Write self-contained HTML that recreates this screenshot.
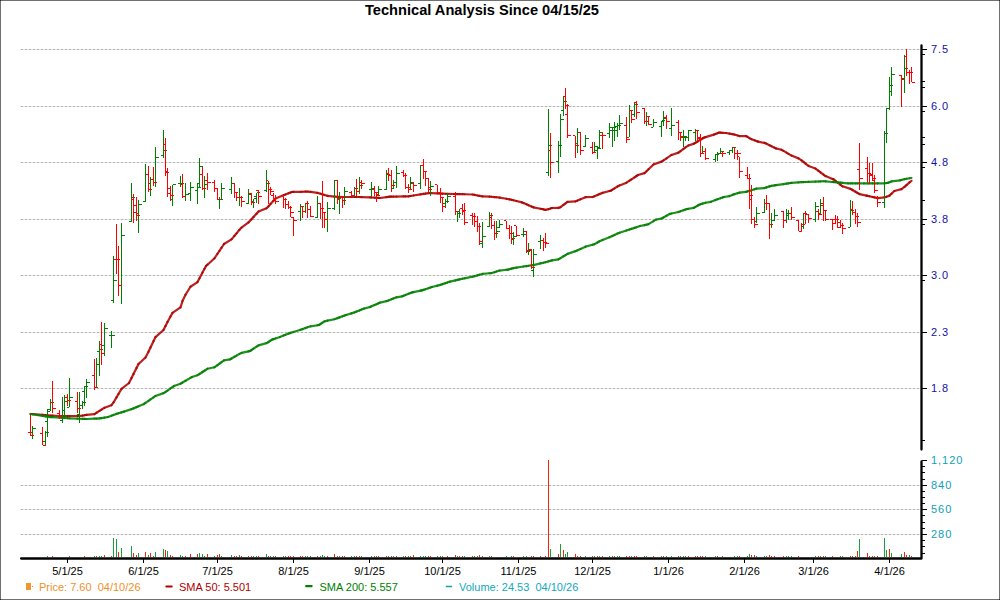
<!DOCTYPE html>
<html><head><meta charset="utf-8"><title>Technical Analysis</title>
<style>
html,body{margin:0;padding:0;background:#fff;}
body{width:1000px;height:600px;overflow:hidden;position:relative;font-family:"Liberation Sans",sans-serif;}
svg{position:absolute;left:0;top:0;}
svg text{font-family:"Liberation Sans",sans-serif;}
</style></head><body>
<svg width="1000" height="600" viewBox="0 0 1000 600">
<rect x="0" y="0" width="1000" height="600" fill="#fff"/>
<path d="M20 49.5H920M20 106.5H920M20 162.5H920M20 219.5H920M20 275.5H920M20 332.5H920M20 388.5H920M20 485.5H920M20 509.5H920M20 534.5H920" stroke="#e6e6e6" stroke-width="1" fill="none" shape-rendering="crispEdges"/>
<path d="M21 49.5H920M21 106.5H920M21 162.5H920M21 219.5H920M21 275.5H920M21 332.5H920M21 388.5H920M21 485.5H920M21 509.5H920M21 534.5H920" stroke="#b4b4b4" stroke-width="1" stroke-dasharray="2,2" fill="none" shape-rendering="crispEdges"/>
<g stroke="#b00000" stroke-width="2.2" stroke-opacity="0.87" stroke-linecap="round"><line x1="30.5" y1="414.00" x2="32.5" y2="414.13"/><line x1="32.5" y1="414.13" x2="42.5" y2="414.97"/><line x1="42.5" y1="414.97" x2="45.5" y2="415.22"/><line x1="45.5" y1="415.22" x2="47.5" y2="415.39"/><line x1="47.5" y1="415.39" x2="50.5" y2="415.62"/><line x1="50.5" y1="415.62" x2="52.5" y2="415.70"/><line x1="52.5" y1="415.70" x2="59.5" y2="415.98"/><line x1="59.5" y1="415.98" x2="62.5" y2="416.00"/><line x1="62.5" y1="416.00" x2="64.5" y2="416.00"/><line x1="64.5" y1="416.00" x2="67.5" y2="416.00"/><line x1="67.5" y1="416.00" x2="69.5" y2="416.00"/><line x1="69.5" y1="416.00" x2="77.5" y2="416.00"/><line x1="77.5" y1="416.00" x2="79.5" y2="416.00"/><line x1="79.5" y1="416.00" x2="82.5" y2="415.58"/><line x1="82.5" y1="415.58" x2="84.5" y2="415.25"/><line x1="84.5" y1="415.25" x2="86.5" y2="414.96"/><line x1="86.5" y1="414.96" x2="94.5" y2="414.08"/><line x1="94.5" y1="414.08" x2="96.5" y2="412.80"/><line x1="96.5" y1="412.80" x2="99.5" y2="410.88"/><line x1="99.5" y1="410.88" x2="101.5" y2="409.60"/><line x1="101.5" y1="409.60" x2="104.5" y2="407.81"/><line x1="104.5" y1="407.81" x2="111.5" y2="405.19"/><line x1="111.5" y1="405.19" x2="113.5" y2="402.45"/><line x1="113.5" y1="402.45" x2="116.5" y2="397.35"/><line x1="116.5" y1="397.35" x2="118.5" y2="393.95"/><line x1="118.5" y1="393.95" x2="121.5" y2="388.85"/><line x1="121.5" y1="388.85" x2="129.0" y2="383.00"/><line x1="129.0" y1="383.00" x2="131.5" y2="378.00"/><line x1="131.5" y1="378.00" x2="133.5" y2="374.00"/><line x1="133.5" y1="374.00" x2="136.5" y2="368.00"/><line x1="136.5" y1="368.00" x2="138.5" y2="364.00"/><line x1="138.5" y1="364.00" x2="145.5" y2="357.43"/><line x1="145.5" y1="357.43" x2="148.5" y2="351.75"/><line x1="148.5" y1="351.75" x2="150.5" y2="347.55"/><line x1="150.5" y1="347.55" x2="153.5" y2="341.25"/><line x1="153.5" y1="341.25" x2="155.5" y2="337.05"/><line x1="155.5" y1="337.05" x2="163.5" y2="330.00"/><line x1="163.5" y1="330.00" x2="165.5" y2="326.00"/><line x1="165.5" y1="326.00" x2="167.5" y2="322.00"/><line x1="167.5" y1="322.00" x2="170.5" y2="316.50"/><line x1="170.5" y1="316.50" x2="172.5" y2="312.90"/><line x1="172.5" y1="312.90" x2="180.5" y2="307.31"/><line x1="180.5" y1="307.31" x2="182.5" y2="301.00"/><line x1="182.5" y1="301.00" x2="185.5" y2="294.71"/><line x1="185.5" y1="294.71" x2="190.5" y2="286.71"/><line x1="190.5" y1="286.71" x2="197.5" y2="282.06"/><line x1="197.5" y1="282.06" x2="199.5" y2="278.28"/><line x1="199.5" y1="278.28" x2="202.5" y2="272.61"/><line x1="202.5" y1="272.61" x2="204.5" y2="268.83"/><line x1="204.5" y1="268.83" x2="206.0" y2="266.00"/><line x1="206.0" y1="266.00" x2="207.5" y2="264.69"/><line x1="207.5" y1="264.69" x2="214.5" y2="258.25"/><line x1="214.5" y1="258.25" x2="217.5" y2="253.75"/><line x1="217.5" y1="253.75" x2="219.5" y2="250.75"/><line x1="219.5" y1="250.75" x2="221.5" y2="247.75"/><line x1="221.5" y1="247.75" x2="224.0" y2="244.00"/><line x1="224.0" y1="244.00" x2="231.5" y2="239.40"/><line x1="231.5" y1="239.40" x2="234.5" y2="235.80"/><line x1="234.5" y1="235.80" x2="236.5" y2="233.40"/><line x1="236.5" y1="233.40" x2="239.5" y2="229.80"/><line x1="239.5" y1="229.80" x2="241.5" y2="227.62"/><line x1="241.5" y1="227.62" x2="248.5" y2="222.38"/><line x1="248.5" y1="222.38" x2="251.5" y2="219.25"/><line x1="251.5" y1="219.25" x2="253.5" y2="217.05"/><line x1="253.5" y1="217.05" x2="256.5" y2="213.75"/><line x1="256.5" y1="213.75" x2="258.5" y2="211.55"/><line x1="258.5" y1="211.55" x2="266.5" y2="208.19"/><line x1="266.5" y1="208.19" x2="268.5" y2="206.33"/><line x1="268.5" y1="206.33" x2="270.5" y2="204.11"/><line x1="270.5" y1="204.11" x2="273.5" y2="200.78"/><line x1="273.5" y1="200.78" x2="275.5" y2="198.56"/><line x1="275.5" y1="198.56" x2="283.5" y2="195.19"/><line x1="283.5" y1="195.19" x2="285.5" y2="194.44"/><line x1="285.5" y1="194.44" x2="288.5" y2="193.31"/><line x1="288.5" y1="193.31" x2="290.5" y2="192.56"/><line x1="290.5" y1="192.56" x2="292.0" y2="192.00"/><line x1="292.0" y1="192.00" x2="293.5" y2="191.96"/><line x1="293.5" y1="191.96" x2="300.5" y2="191.79"/><line x1="300.5" y1="191.79" x2="302.5" y2="191.74"/><line x1="302.5" y1="191.74" x2="305.5" y2="191.66"/><line x1="305.5" y1="191.66" x2="307.5" y2="191.61"/><line x1="307.5" y1="191.61" x2="310.5" y2="191.95"/><line x1="310.5" y1="191.95" x2="317.5" y2="192.93"/><line x1="317.5" y1="192.93" x2="320.5" y2="193.75"/><line x1="320.5" y1="193.75" x2="322.5" y2="194.35"/><line x1="322.5" y1="194.35" x2="324.5" y2="194.95"/><line x1="324.5" y1="194.95" x2="327.5" y2="195.85"/><line x1="327.5" y1="195.85" x2="334.5" y2="196.54"/><line x1="334.5" y1="196.54" x2="337.5" y2="196.79"/><line x1="337.5" y1="196.79" x2="339.5" y2="196.96"/><line x1="339.5" y1="196.96" x2="342.5" y2="197.00"/><line x1="342.5" y1="197.00" x2="344.5" y2="197.00"/><line x1="344.5" y1="197.00" x2="351.5" y2="197.00"/><line x1="351.5" y1="197.00" x2="354.5" y2="197.00"/><line x1="354.5" y1="197.00" x2="356.5" y2="197.00"/><line x1="356.5" y1="197.00" x2="359.5" y2="197.00"/><line x1="359.5" y1="197.00" x2="361.5" y2="197.06"/><line x1="361.5" y1="197.06" x2="370.0" y2="197.40"/><line x1="370.0" y1="197.40" x2="371.5" y2="197.49"/><line x1="371.5" y1="197.49" x2="374.5" y2="197.67"/><line x1="374.5" y1="197.67" x2="376.5" y2="197.79"/><line x1="376.5" y1="197.79" x2="378.5" y2="197.91"/><line x1="378.5" y1="197.91" x2="380.0" y2="198.00"/><line x1="380.0" y1="198.00" x2="386.5" y2="197.09"/><line x1="386.5" y1="197.09" x2="388.5" y2="196.81"/><line x1="388.5" y1="196.81" x2="390.0" y2="196.60"/><line x1="390.0" y1="196.60" x2="391.5" y2="196.58"/><line x1="391.5" y1="196.58" x2="393.5" y2="196.56"/><line x1="393.5" y1="196.56" x2="396.5" y2="196.53"/><line x1="396.5" y1="196.53" x2="403.5" y2="196.45"/><line x1="403.5" y1="196.45" x2="405.5" y2="196.43"/><line x1="405.5" y1="196.43" x2="408.5" y2="196.32"/><line x1="408.5" y1="196.32" x2="410.5" y2="195.98"/><line x1="410.5" y1="195.98" x2="413.5" y2="195.48"/><line x1="413.5" y1="195.48" x2="420.5" y2="194.33"/><line x1="420.5" y1="194.33" x2="423.5" y2="193.91"/><line x1="423.5" y1="193.91" x2="425.5" y2="193.63"/><line x1="425.5" y1="193.63" x2="428.5" y2="193.21"/><line x1="428.5" y1="193.21" x2="430.5" y2="193.03"/><line x1="430.5" y1="193.03" x2="437.5" y2="193.45"/><line x1="437.5" y1="193.45" x2="440.5" y2="193.61"/><line x1="440.5" y1="193.61" x2="442.5" y2="193.67"/><line x1="442.5" y1="193.67" x2="445.5" y2="193.76"/><line x1="445.5" y1="193.76" x2="447.5" y2="193.81"/><line x1="447.5" y1="193.81" x2="454.0" y2="194.00"/><line x1="454.0" y1="194.00" x2="455.5" y2="194.03"/><line x1="455.5" y1="194.03" x2="457.5" y2="194.08"/><line x1="457.5" y1="194.08" x2="459.5" y2="194.12"/><line x1="459.5" y1="194.12" x2="462.5" y2="194.19"/><line x1="462.5" y1="194.19" x2="464.5" y2="194.23"/><line x1="464.5" y1="194.23" x2="472.5" y2="194.50"/><line x1="472.5" y1="194.50" x2="474.5" y2="194.90"/><line x1="474.5" y1="194.90" x2="477.5" y2="195.50"/><line x1="477.5" y1="195.50" x2="479.5" y2="195.90"/><line x1="479.5" y1="195.90" x2="482.5" y2="196.41"/><line x1="482.5" y1="196.41" x2="489.5" y2="196.59"/><line x1="489.5" y1="196.59" x2="491.5" y2="196.75"/><line x1="491.5" y1="196.75" x2="494.5" y2="197.05"/><line x1="494.5" y1="197.05" x2="496.5" y2="197.25"/><line x1="496.5" y1="197.25" x2="499.5" y2="197.55"/><line x1="499.5" y1="197.55" x2="506.5" y2="198.77"/><line x1="506.5" y1="198.77" x2="509.5" y2="199.31"/><line x1="509.5" y1="199.31" x2="511.5" y2="199.78"/><line x1="511.5" y1="199.78" x2="513.5" y2="200.28"/><line x1="513.5" y1="200.28" x2="516.5" y2="201.03"/><line x1="516.5" y1="201.03" x2="522.0" y2="202.40"/><line x1="522.0" y1="202.40" x2="523.5" y2="203.05"/><line x1="523.5" y1="203.05" x2="526.5" y2="204.35"/><line x1="526.5" y1="204.35" x2="528.5" y2="205.22"/><line x1="528.5" y1="205.22" x2="531.5" y2="206.52"/><line x1="531.5" y1="206.52" x2="533.5" y2="207.38"/><line x1="533.5" y1="207.38" x2="540.5" y2="208.74"/><line x1="540.5" y1="208.74" x2="542.0" y2="209.00"/><line x1="542.0" y1="209.00" x2="543.5" y2="209.38"/><line x1="543.5" y1="209.38" x2="545.5" y2="209.88"/><line x1="545.5" y1="209.88" x2="548.5" y2="209.17"/><line x1="548.5" y1="209.17" x2="550.5" y2="208.50"/><line x1="550.5" y1="208.50" x2="552.0" y2="208.00"/><line x1="552.0" y1="208.00" x2="558.5" y2="207.90"/><line x1="558.5" y1="207.90" x2="560.5" y2="207.21"/><line x1="560.5" y1="207.21" x2="563.5" y2="204.89"/><line x1="563.5" y1="204.89" x2="565.5" y2="203.34"/><line x1="565.5" y1="203.34" x2="567.5" y2="201.79"/><line x1="567.5" y1="201.79" x2="575.5" y2="201.39"/><line x1="575.5" y1="201.39" x2="577.5" y2="200.55"/><line x1="577.5" y1="200.55" x2="580.5" y2="199.30"/><line x1="580.5" y1="199.30" x2="585.5" y2="197.21"/><line x1="585.5" y1="197.21" x2="592.5" y2="197.00"/><line x1="592.5" y1="197.00" x2="594.5" y2="196.33"/><line x1="594.5" y1="196.33" x2="597.5" y2="195.00"/><line x1="597.5" y1="195.00" x2="599.5" y2="194.11"/><line x1="599.5" y1="194.11" x2="602.5" y2="192.87"/><line x1="602.5" y1="192.87" x2="609.5" y2="191.00"/><line x1="609.5" y1="191.00" x2="611.0" y2="190.60"/><line x1="611.0" y1="190.60" x2="612.5" y2="189.66"/><line x1="612.5" y1="189.66" x2="614.5" y2="188.41"/><line x1="614.5" y1="188.41" x2="617.5" y2="186.54"/><line x1="617.5" y1="186.54" x2="619.5" y2="185.41"/><line x1="619.5" y1="185.41" x2="626.5" y2="182.67"/><line x1="626.5" y1="182.67" x2="629.5" y2="180.67"/><line x1="629.5" y1="180.67" x2="631.5" y2="179.33"/><line x1="631.5" y1="179.33" x2="634.5" y2="177.33"/><line x1="634.5" y1="177.33" x2="636.5" y2="176.00"/><line x1="636.5" y1="176.00" x2="638.0" y2="175.00"/><line x1="638.0" y1="175.00" x2="644.5" y2="173.12"/><line x1="644.5" y1="173.12" x2="646.5" y2="171.20"/><line x1="646.5" y1="171.20" x2="648.5" y2="169.28"/><line x1="648.5" y1="169.28" x2="653.5" y2="164.48"/><line x1="653.5" y1="164.48" x2="661.5" y2="161.66"/><line x1="661.5" y1="161.66" x2="663.5" y2="160.32"/><line x1="663.5" y1="160.32" x2="666.5" y2="158.30"/><line x1="666.5" y1="158.30" x2="671.5" y2="154.94"/><line x1="671.5" y1="154.94" x2="678.5" y2="152.63"/><line x1="678.5" y1="152.63" x2="680.5" y2="151.15"/><line x1="680.5" y1="151.15" x2="683.5" y2="148.93"/><line x1="683.5" y1="148.93" x2="685.5" y2="147.45"/><line x1="685.5" y1="147.45" x2="688.5" y2="145.43"/><line x1="688.5" y1="145.43" x2="694.0" y2="143.60"/><line x1="694.0" y1="143.60" x2="695.5" y2="142.70"/><line x1="695.5" y1="142.70" x2="697.5" y2="141.50"/><line x1="697.5" y1="141.50" x2="700.5" y2="139.70"/><line x1="700.5" y1="139.70" x2="702.5" y2="138.50"/><line x1="702.5" y1="138.50" x2="704.0" y2="137.60"/><line x1="704.0" y1="137.60" x2="705.5" y2="137.15"/><line x1="705.5" y1="137.15" x2="714.0" y2="134.60"/><line x1="714.0" y1="134.60" x2="715.5" y2="134.00"/><line x1="715.5" y1="134.00" x2="717.5" y2="133.20"/><line x1="717.5" y1="133.20" x2="719.0" y2="132.60"/><line x1="719.0" y1="132.60" x2="720.5" y2="132.69"/><line x1="720.5" y1="132.69" x2="722.5" y2="132.80"/><line x1="722.5" y1="132.80" x2="726.0" y2="133.00"/><line x1="726.0" y1="133.00" x2="729.5" y2="133.61"/><line x1="729.5" y1="133.61" x2="732.5" y2="134.14"/><line x1="732.5" y1="134.14" x2="734.5" y2="134.55"/><line x1="734.5" y1="134.55" x2="737.5" y2="135.45"/><line x1="737.5" y1="135.45" x2="739.5" y2="136.05"/><line x1="739.5" y1="136.05" x2="746.3" y2="136.20"/><line x1="746.3" y1="136.20" x2="747.5" y2="136.92"/><line x1="747.5" y1="136.92" x2="749.5" y2="138.12"/><line x1="749.5" y1="138.12" x2="751.5" y2="139.16"/><line x1="751.5" y1="139.16" x2="754.5" y2="140.29"/><line x1="754.5" y1="140.29" x2="756.5" y2="141.04"/><line x1="756.5" y1="141.04" x2="758.0" y2="141.60"/><line x1="758.0" y1="141.60" x2="764.5" y2="142.86"/><line x1="764.5" y1="142.86" x2="766.5" y2="143.65"/><line x1="766.5" y1="143.65" x2="769.5" y2="145.15"/><line x1="769.5" y1="145.15" x2="771.5" y2="146.15"/><line x1="771.5" y1="146.15" x2="774.5" y2="147.65"/><line x1="774.5" y1="147.65" x2="776.0" y2="148.40"/><line x1="776.0" y1="148.40" x2="781.4" y2="149.70"/><line x1="781.4" y1="149.70" x2="783.5" y2="150.92"/><line x1="783.5" y1="150.92" x2="786.5" y2="152.67"/><line x1="786.5" y1="152.67" x2="788.5" y2="153.84"/><line x1="788.5" y1="153.84" x2="791.5" y2="155.59"/><line x1="791.5" y1="155.59" x2="798.5" y2="158.36"/><line x1="798.5" y1="158.36" x2="801.5" y2="160.38"/><line x1="801.5" y1="160.38" x2="803.5" y2="161.98"/><line x1="803.5" y1="161.98" x2="805.5" y2="163.58"/><line x1="805.5" y1="163.58" x2="808.5" y2="165.94"/><line x1="808.5" y1="165.94" x2="815.5" y2="168.56"/><line x1="815.5" y1="168.56" x2="818.5" y2="170.77"/><line x1="818.5" y1="170.77" x2="820.5" y2="172.27"/><line x1="820.5" y1="172.27" x2="823.5" y2="174.53"/><line x1="823.5" y1="174.53" x2="825.5" y2="176.03"/><line x1="825.5" y1="176.03" x2="832.5" y2="178.99"/><line x1="832.5" y1="178.99" x2="833.6" y2="179.40"/><line x1="833.6" y1="179.40" x2="835.5" y2="180.88"/><line x1="835.5" y1="180.88" x2="837.5" y2="182.45"/><line x1="837.5" y1="182.45" x2="840.5" y2="184.78"/><line x1="840.5" y1="184.78" x2="842.5" y2="186.27"/><line x1="842.5" y1="186.27" x2="850.5" y2="188.86"/><line x1="850.5" y1="188.86" x2="852.5" y2="190.00"/><line x1="852.5" y1="190.00" x2="855.5" y2="191.71"/><line x1="855.5" y1="191.71" x2="857.5" y2="192.94"/><line x1="857.5" y1="192.94" x2="859.5" y2="194.07"/><line x1="859.5" y1="194.07" x2="866.4" y2="195.60"/><line x1="866.4" y1="195.60" x2="867.5" y2="195.84"/><line x1="867.5" y1="195.84" x2="869.5" y2="196.29"/><line x1="869.5" y1="196.29" x2="872.5" y2="196.96"/><line x1="872.5" y1="196.96" x2="874.5" y2="197.42"/><line x1="874.5" y1="197.42" x2="877.5" y2="198.17"/><line x1="877.5" y1="198.17" x2="884.5" y2="197.42"/><line x1="884.5" y1="197.42" x2="886.5" y2="196.71"/><line x1="886.5" y1="196.71" x2="889.5" y2="195.64"/><line x1="889.5" y1="195.64" x2="891.5" y2="193.78"/><line x1="891.5" y1="193.78" x2="894.4" y2="191.00"/><line x1="894.4" y1="191.00" x2="901.5" y2="189.07"/><line x1="901.5" y1="189.07" x2="904.5" y2="186.83"/><line x1="904.5" y1="186.83" x2="906.5" y2="185.16"/><line x1="906.5" y1="185.16" x2="909.5" y2="182.38"/><line x1="909.5" y1="182.38" x2="911.5" y2="180.80"/></g>
<g stroke="#008000" stroke-width="2.2" stroke-opacity="0.87" stroke-linecap="round"><line x1="30.5" y1="414.00" x2="32.5" y2="414.24"/><line x1="32.5" y1="414.24" x2="42.5" y2="415.82"/><line x1="42.5" y1="415.82" x2="45.5" y2="416.29"/><line x1="45.5" y1="416.29" x2="47.5" y2="416.61"/><line x1="47.5" y1="416.61" x2="50.5" y2="417.04"/><line x1="50.5" y1="417.04" x2="52.5" y2="417.18"/><line x1="52.5" y1="417.18" x2="59.5" y2="417.66"/><line x1="59.5" y1="417.66" x2="62.5" y2="417.88"/><line x1="62.5" y1="417.88" x2="64.5" y2="418.01"/><line x1="64.5" y1="418.01" x2="67.5" y2="418.22"/><line x1="67.5" y1="418.22" x2="69.5" y2="418.36"/><line x1="69.5" y1="418.36" x2="77.5" y2="418.68"/><line x1="77.5" y1="418.68" x2="79.5" y2="418.76"/><line x1="79.5" y1="418.76" x2="82.5" y2="418.87"/><line x1="82.5" y1="418.87" x2="84.5" y2="418.94"/><line x1="84.5" y1="418.94" x2="86.5" y2="418.98"/><line x1="86.5" y1="418.98" x2="94.5" y2="418.64"/><line x1="94.5" y1="418.64" x2="96.5" y2="418.55"/><line x1="96.5" y1="418.55" x2="99.5" y2="418.42"/><line x1="99.5" y1="418.42" x2="101.5" y2="418.14"/><line x1="101.5" y1="418.14" x2="104.5" y2="417.61"/><line x1="104.5" y1="417.61" x2="108.0" y2="417.00"/><line x1="108.0" y1="417.00" x2="111.5" y2="415.69"/><line x1="111.5" y1="415.69" x2="113.5" y2="414.94"/><line x1="113.5" y1="414.94" x2="116.5" y2="413.85"/><line x1="116.5" y1="413.85" x2="118.5" y2="413.25"/><line x1="118.5" y1="413.25" x2="121.5" y2="412.35"/><line x1="121.5" y1="412.35" x2="124.0" y2="411.60"/><line x1="124.0" y1="411.60" x2="131.5" y2="409.16"/><line x1="131.5" y1="409.16" x2="133.5" y2="408.38"/><line x1="133.5" y1="408.38" x2="136.5" y2="407.12"/><line x1="136.5" y1="407.12" x2="138.5" y2="406.29"/><line x1="138.5" y1="406.29" x2="144.0" y2="404.00"/><line x1="144.0" y1="404.00" x2="145.5" y2="402.95"/><line x1="145.5" y1="402.95" x2="148.5" y2="400.85"/><line x1="148.5" y1="400.85" x2="150.5" y2="399.45"/><line x1="150.5" y1="399.45" x2="153.5" y2="397.35"/><line x1="153.5" y1="397.35" x2="155.5" y2="395.95"/><line x1="155.5" y1="395.95" x2="163.5" y2="393.16"/><line x1="163.5" y1="393.16" x2="165.5" y2="391.95"/><line x1="165.5" y1="391.95" x2="167.5" y2="390.55"/><line x1="167.5" y1="390.55" x2="170.5" y2="388.45"/><line x1="170.5" y1="388.45" x2="172.5" y2="387.05"/><line x1="172.5" y1="387.05" x2="174.0" y2="386.00"/><line x1="174.0" y1="386.00" x2="180.5" y2="383.71"/><line x1="180.5" y1="383.71" x2="182.5" y2="382.54"/><line x1="182.5" y1="382.54" x2="185.5" y2="380.79"/><line x1="185.5" y1="380.79" x2="190.5" y2="377.88"/><line x1="190.5" y1="377.88" x2="192.0" y2="377.00"/><line x1="192.0" y1="377.00" x2="197.5" y2="375.17"/><line x1="197.5" y1="375.17" x2="199.5" y2="374.01"/><line x1="199.5" y1="374.01" x2="202.5" y2="372.03"/><line x1="202.5" y1="372.03" x2="204.5" y2="370.71"/><line x1="204.5" y1="370.71" x2="207.5" y2="368.73"/><line x1="207.5" y1="368.73" x2="214.5" y2="367.24"/><line x1="214.5" y1="367.24" x2="217.5" y2="365.08"/><line x1="217.5" y1="365.08" x2="219.5" y2="363.64"/><line x1="219.5" y1="363.64" x2="221.5" y2="362.20"/><line x1="221.5" y1="362.20" x2="224.0" y2="360.40"/><line x1="224.0" y1="360.40" x2="230.0" y2="359.40"/><line x1="230.0" y1="359.40" x2="231.5" y2="358.53"/><line x1="231.5" y1="358.53" x2="234.5" y2="356.78"/><line x1="234.5" y1="356.78" x2="236.5" y2="355.62"/><line x1="236.5" y1="355.62" x2="239.5" y2="353.87"/><line x1="239.5" y1="353.87" x2="241.5" y2="352.89"/><line x1="241.5" y1="352.89" x2="248.5" y2="351.33"/><line x1="248.5" y1="351.33" x2="250.0" y2="351.00"/><line x1="250.0" y1="351.00" x2="251.5" y2="350.00"/><line x1="251.5" y1="350.00" x2="253.5" y2="348.67"/><line x1="253.5" y1="348.67" x2="256.5" y2="346.67"/><line x1="256.5" y1="346.67" x2="258.5" y2="345.33"/><line x1="258.5" y1="345.33" x2="266.5" y2="343.12"/><line x1="266.5" y1="343.12" x2="268.5" y2="341.98"/><line x1="268.5" y1="341.98" x2="270.5" y2="340.62"/><line x1="270.5" y1="340.62" x2="272.0" y2="339.60"/><line x1="272.0" y1="339.60" x2="273.5" y2="339.11"/><line x1="273.5" y1="339.11" x2="275.5" y2="338.46"/><line x1="275.5" y1="338.46" x2="280.0" y2="337.00"/><line x1="280.0" y1="337.00" x2="283.5" y2="335.60"/><line x1="283.5" y1="335.60" x2="285.5" y2="334.80"/><line x1="285.5" y1="334.80" x2="288.5" y2="333.60"/><line x1="288.5" y1="333.60" x2="290.5" y2="332.85"/><line x1="290.5" y1="332.85" x2="293.5" y2="331.95"/><line x1="293.5" y1="331.95" x2="300.5" y2="329.82"/><line x1="300.5" y1="329.82" x2="302.5" y2="329.10"/><line x1="302.5" y1="329.10" x2="305.5" y2="328.02"/><line x1="305.5" y1="328.02" x2="307.5" y2="327.30"/><line x1="307.5" y1="327.30" x2="310.5" y2="326.32"/><line x1="310.5" y1="326.32" x2="317.5" y2="325.23"/><line x1="317.5" y1="325.23" x2="319.0" y2="325.00"/><line x1="319.0" y1="325.00" x2="320.5" y2="324.00"/><line x1="320.5" y1="324.00" x2="322.5" y2="322.67"/><line x1="322.5" y1="322.67" x2="324.5" y2="321.33"/><line x1="324.5" y1="321.33" x2="327.5" y2="320.56"/><line x1="327.5" y1="320.56" x2="334.5" y2="319.22"/><line x1="334.5" y1="319.22" x2="337.5" y2="318.12"/><line x1="337.5" y1="318.12" x2="339.5" y2="317.38"/><line x1="339.5" y1="317.38" x2="342.5" y2="316.28"/><line x1="342.5" y1="316.28" x2="344.5" y2="315.55"/><line x1="344.5" y1="315.55" x2="346.0" y2="315.00"/><line x1="346.0" y1="315.00" x2="351.5" y2="313.35"/><line x1="351.5" y1="313.35" x2="354.5" y2="312.40"/><line x1="354.5" y1="312.40" x2="356.5" y2="311.60"/><line x1="356.5" y1="311.60" x2="359.5" y2="310.40"/><line x1="359.5" y1="310.40" x2="361.5" y2="309.60"/><line x1="361.5" y1="309.60" x2="364.0" y2="308.60"/><line x1="364.0" y1="308.60" x2="370.0" y2="307.00"/><line x1="370.0" y1="307.00" x2="371.5" y2="306.34"/><line x1="371.5" y1="306.34" x2="374.5" y2="305.02"/><line x1="374.5" y1="305.02" x2="376.5" y2="304.14"/><line x1="376.5" y1="304.14" x2="378.5" y2="303.26"/><line x1="378.5" y1="303.26" x2="380.0" y2="302.60"/><line x1="380.0" y1="302.60" x2="386.5" y2="301.20"/><line x1="386.5" y1="301.20" x2="388.5" y2="300.40"/><line x1="388.5" y1="300.40" x2="391.5" y2="299.20"/><line x1="391.5" y1="299.20" x2="393.5" y2="298.40"/><line x1="393.5" y1="298.40" x2="396.5" y2="297.32"/><line x1="396.5" y1="297.32" x2="402.0" y2="296.40"/><line x1="402.0" y1="296.40" x2="403.5" y2="295.80"/><line x1="403.5" y1="295.80" x2="405.5" y2="295.00"/><line x1="405.5" y1="295.00" x2="408.5" y2="293.80"/><line x1="408.5" y1="293.80" x2="410.5" y2="293.00"/><line x1="410.5" y1="293.00" x2="412.0" y2="292.40"/><line x1="412.0" y1="292.40" x2="413.5" y2="292.10"/><line x1="413.5" y1="292.10" x2="420.5" y2="290.70"/><line x1="420.5" y1="290.70" x2="422.0" y2="290.40"/><line x1="422.0" y1="290.40" x2="423.5" y2="289.89"/><line x1="423.5" y1="289.89" x2="425.5" y2="289.21"/><line x1="425.5" y1="289.21" x2="428.5" y2="288.19"/><line x1="428.5" y1="288.19" x2="430.5" y2="287.51"/><line x1="430.5" y1="287.51" x2="432.0" y2="287.00"/><line x1="432.0" y1="287.00" x2="437.5" y2="285.62"/><line x1="437.5" y1="285.62" x2="440.5" y2="284.83"/><line x1="440.5" y1="284.83" x2="442.5" y2="284.15"/><line x1="442.5" y1="284.15" x2="445.5" y2="283.13"/><line x1="445.5" y1="283.13" x2="447.5" y2="282.45"/><line x1="447.5" y1="282.45" x2="450.0" y2="281.60"/><line x1="450.0" y1="281.60" x2="455.5" y2="280.34"/><line x1="455.5" y1="280.34" x2="457.5" y2="279.89"/><line x1="457.5" y1="279.89" x2="459.5" y2="279.43"/><line x1="459.5" y1="279.43" x2="462.5" y2="278.74"/><line x1="462.5" y1="278.74" x2="464.5" y2="278.30"/><line x1="464.5" y1="278.30" x2="472.5" y2="276.70"/><line x1="472.5" y1="276.70" x2="474.5" y2="276.25"/><line x1="474.5" y1="276.25" x2="477.5" y2="275.35"/><line x1="477.5" y1="275.35" x2="479.5" y2="274.75"/><line x1="479.5" y1="274.75" x2="482.5" y2="273.95"/><line x1="482.5" y1="273.95" x2="489.5" y2="273.25"/><line x1="489.5" y1="273.25" x2="491.5" y2="273.05"/><line x1="491.5" y1="273.05" x2="494.5" y2="272.19"/><line x1="494.5" y1="272.19" x2="496.5" y2="271.54"/><line x1="496.5" y1="271.54" x2="499.5" y2="270.56"/><line x1="499.5" y1="270.56" x2="506.5" y2="269.75"/><line x1="506.5" y1="269.75" x2="508.0" y2="269.60"/><line x1="508.0" y1="269.60" x2="509.5" y2="269.20"/><line x1="509.5" y1="269.20" x2="511.5" y2="268.67"/><line x1="511.5" y1="268.67" x2="513.5" y2="268.13"/><line x1="513.5" y1="268.13" x2="516.5" y2="267.60"/><line x1="516.5" y1="267.60" x2="523.5" y2="266.48"/><line x1="523.5" y1="266.48" x2="526.5" y2="266.05"/><line x1="526.5" y1="266.05" x2="528.5" y2="265.77"/><line x1="528.5" y1="265.77" x2="531.5" y2="265.35"/><line x1="531.5" y1="265.35" x2="533.5" y2="265.07"/><line x1="533.5" y1="265.07" x2="540.5" y2="263.44"/><line x1="540.5" y1="263.44" x2="543.5" y2="262.72"/><line x1="543.5" y1="262.72" x2="545.5" y2="262.19"/><line x1="545.5" y1="262.19" x2="548.5" y2="261.36"/><line x1="548.5" y1="261.36" x2="550.5" y2="260.81"/><line x1="550.5" y1="260.81" x2="552.0" y2="260.40"/><line x1="552.0" y1="260.40" x2="558.5" y2="259.30"/><line x1="558.5" y1="259.30" x2="560.5" y2="258.10"/><line x1="560.5" y1="258.10" x2="563.5" y2="256.30"/><line x1="563.5" y1="256.30" x2="565.5" y2="255.10"/><line x1="565.5" y1="255.10" x2="567.5" y2="253.90"/><line x1="567.5" y1="253.90" x2="575.5" y2="251.16"/><line x1="575.5" y1="251.16" x2="577.5" y2="250.31"/><line x1="577.5" y1="250.31" x2="580.5" y2="248.93"/><line x1="580.5" y1="248.93" x2="585.5" y2="246.63"/><line x1="585.5" y1="246.63" x2="592.5" y2="244.78"/><line x1="592.5" y1="244.78" x2="594.5" y2="244.12"/><line x1="594.5" y1="244.12" x2="597.5" y2="242.42"/><line x1="597.5" y1="242.42" x2="599.5" y2="241.28"/><line x1="599.5" y1="241.28" x2="602.5" y2="240.00"/><line x1="602.5" y1="240.00" x2="609.5" y2="237.20"/><line x1="609.5" y1="237.20" x2="612.5" y2="235.88"/><line x1="612.5" y1="235.88" x2="614.5" y2="234.97"/><line x1="614.5" y1="234.97" x2="617.5" y2="233.62"/><line x1="617.5" y1="233.62" x2="619.5" y2="232.72"/><line x1="619.5" y1="232.72" x2="626.5" y2="230.49"/><line x1="626.5" y1="230.49" x2="629.5" y2="229.56"/><line x1="629.5" y1="229.56" x2="631.5" y2="228.89"/><line x1="631.5" y1="228.89" x2="634.5" y2="227.87"/><line x1="634.5" y1="227.87" x2="636.5" y2="227.19"/><line x1="636.5" y1="227.19" x2="640.0" y2="226.00"/><line x1="640.0" y1="226.00" x2="644.5" y2="225.10"/><line x1="644.5" y1="225.10" x2="646.5" y2="224.70"/><line x1="646.5" y1="224.70" x2="648.5" y2="224.10"/><line x1="648.5" y1="224.10" x2="653.5" y2="221.10"/><line x1="653.5" y1="221.10" x2="656.0" y2="219.60"/><line x1="656.0" y1="219.60" x2="661.5" y2="218.50"/><line x1="661.5" y1="218.50" x2="663.5" y2="217.54"/><line x1="663.5" y1="217.54" x2="666.5" y2="215.81"/><line x1="666.5" y1="215.81" x2="670.0" y2="213.80"/><line x1="670.0" y1="213.80" x2="671.5" y2="213.50"/><line x1="671.5" y1="213.50" x2="678.5" y2="212.02"/><line x1="678.5" y1="212.02" x2="680.5" y2="211.31"/><line x1="680.5" y1="211.31" x2="683.5" y2="210.24"/><line x1="683.5" y1="210.24" x2="685.5" y2="209.53"/><line x1="685.5" y1="209.53" x2="687.0" y2="209.00"/><line x1="687.0" y1="209.00" x2="688.5" y2="208.74"/><line x1="688.5" y1="208.74" x2="694.0" y2="207.80"/><line x1="694.0" y1="207.80" x2="695.5" y2="206.90"/><line x1="695.5" y1="206.90" x2="697.5" y2="205.70"/><line x1="697.5" y1="205.70" x2="699.0" y2="204.80"/><line x1="699.0" y1="204.80" x2="700.5" y2="204.30"/><line x1="700.5" y1="204.30" x2="702.5" y2="203.63"/><line x1="702.5" y1="203.63" x2="705.5" y2="202.72"/><line x1="705.5" y1="202.72" x2="711.0" y2="201.80"/><line x1="711.0" y1="201.80" x2="715.5" y2="200.00"/><line x1="715.5" y1="200.00" x2="717.5" y2="199.20"/><line x1="717.5" y1="199.20" x2="720.5" y2="198.17"/><line x1="720.5" y1="198.17" x2="722.5" y2="197.50"/><line x1="722.5" y1="197.50" x2="724.0" y2="197.00"/><line x1="724.0" y1="197.00" x2="729.5" y2="196.10"/><line x1="729.5" y1="196.10" x2="732.5" y2="194.90"/><line x1="732.5" y1="194.90" x2="734.5" y2="194.15"/><line x1="734.5" y1="194.15" x2="737.5" y2="193.25"/><line x1="737.5" y1="193.25" x2="739.5" y2="192.65"/><line x1="739.5" y1="192.65" x2="746.0" y2="191.80"/><line x1="746.0" y1="191.80" x2="747.5" y2="191.43"/><line x1="747.5" y1="191.43" x2="749.5" y2="190.93"/><line x1="749.5" y1="190.93" x2="751.5" y2="190.31"/><line x1="751.5" y1="190.31" x2="754.5" y2="189.32"/><line x1="754.5" y1="189.32" x2="756.5" y2="188.66"/><line x1="756.5" y1="188.66" x2="764.5" y2="188.03"/><line x1="764.5" y1="188.03" x2="766.5" y2="187.37"/><line x1="766.5" y1="187.37" x2="769.5" y2="186.37"/><line x1="769.5" y1="186.37" x2="771.5" y2="185.95"/><line x1="771.5" y1="185.95" x2="774.5" y2="185.45"/><line x1="774.5" y1="185.45" x2="776.0" y2="185.20"/><line x1="776.0" y1="185.20" x2="783.5" y2="184.05"/><line x1="783.5" y1="184.05" x2="786.5" y2="183.60"/><line x1="786.5" y1="183.60" x2="788.5" y2="183.29"/><line x1="788.5" y1="183.29" x2="790.4" y2="183.00"/><line x1="790.4" y1="183.00" x2="791.5" y2="182.91"/><line x1="791.5" y1="182.91" x2="798.5" y2="182.32"/><line x1="798.5" y1="182.32" x2="801.5" y2="182.09"/><line x1="801.5" y1="182.09" x2="803.5" y2="182.04"/><line x1="803.5" y1="182.04" x2="805.5" y2="181.98"/><line x1="805.5" y1="181.98" x2="808.5" y2="181.90"/><line x1="808.5" y1="181.90" x2="815.5" y2="181.70"/><line x1="815.5" y1="181.70" x2="818.5" y2="181.50"/><line x1="818.5" y1="181.50" x2="820.5" y2="181.36"/><line x1="820.5" y1="181.36" x2="823.5" y2="181.26"/><line x1="823.5" y1="181.26" x2="825.5" y2="181.42"/><line x1="825.5" y1="181.42" x2="832.5" y2="182.01"/><line x1="832.5" y1="182.01" x2="833.6" y2="182.10"/><line x1="833.6" y1="182.10" x2="835.5" y2="182.26"/><line x1="835.5" y1="182.26" x2="837.5" y2="182.43"/><line x1="837.5" y1="182.43" x2="840.5" y2="182.68"/><line x1="840.5" y1="182.68" x2="842.5" y2="182.84"/><line x1="842.5" y1="182.84" x2="848.0" y2="183.30"/><line x1="848.0" y1="183.30" x2="850.5" y2="183.32"/><line x1="850.5" y1="183.32" x2="852.5" y2="183.33"/><line x1="852.5" y1="183.33" x2="855.5" y2="183.35"/><line x1="855.5" y1="183.35" x2="857.5" y2="183.36"/><line x1="857.5" y1="183.36" x2="859.5" y2="183.37"/><line x1="859.5" y1="183.37" x2="864.0" y2="183.40"/><line x1="864.0" y1="183.40" x2="867.5" y2="183.40"/><line x1="867.5" y1="183.40" x2="869.5" y2="183.40"/><line x1="869.5" y1="183.40" x2="872.5" y2="183.40"/><line x1="872.5" y1="183.40" x2="874.5" y2="183.40"/><line x1="874.5" y1="183.40" x2="877.5" y2="183.40"/><line x1="877.5" y1="183.40" x2="884.5" y2="183.33"/><line x1="884.5" y1="183.33" x2="886.5" y2="183.03"/><line x1="886.5" y1="183.03" x2="888.0" y2="182.80"/><line x1="888.0" y1="182.80" x2="889.5" y2="182.20"/><line x1="889.5" y1="182.20" x2="891.5" y2="181.40"/><line x1="891.5" y1="181.40" x2="900.0" y2="180.40"/><line x1="900.0" y1="180.40" x2="901.5" y2="179.95"/><line x1="901.5" y1="179.95" x2="904.5" y2="179.12"/><line x1="904.5" y1="179.12" x2="906.5" y2="178.78"/><line x1="906.5" y1="178.78" x2="909.5" y2="178.28"/><line x1="909.5" y1="178.28" x2="911.5" y2="178.00"/></g>
<path d="M47 556h1v1h-1zM69 556h1v1h-1zM94 556h1v1h-1zM99 556h1v1h-1zM101 556h1v1h-1zM113 538h1v19h-1zM116 539h1v18h-1zM121 548h1v9h-1zM131 546h1v11h-1zM138 553h1v4h-1zM148 555h1v2h-1zM155 552h1v5h-1zM163 549h1v8h-1zM167 551h1v6h-1zM180 555h1v2h-1zM182 556h1v1h-1zM199 553h1v4h-1zM202 554h1v3h-1zM204 556h1v1h-1zM214 556h1v1h-1zM221 556h1v1h-1zM231 555h1v2h-1zM239 555h1v2h-1zM253 556h1v1h-1zM256 556h1v1h-1zM266 554h1v3h-1zM270 556h1v1h-1zM273 556h1v1h-1zM283 556h1v1h-1zM285 556h1v1h-1zM305 556h1v1h-1zM307 556h1v1h-1zM310 556h1v1h-1zM320 556h1v1h-1zM322 555h1v2h-1zM324 556h1v1h-1zM339 556h1v1h-1zM351 556h1v1h-1zM354 556h1v1h-1zM361 556h1v1h-1zM371 556h1v1h-1zM376 556h1v1h-1zM388 556h1v1h-1zM393 556h1v1h-1zM403 556h1v1h-1zM408 556h1v1h-1zM420 556h1v1h-1zM423 556h1v1h-1zM425 556h1v1h-1zM437 556h1v1h-1zM440 556h1v1h-1zM457 556h1v1h-1zM464 556h1v1h-1zM474 556h1v1h-1zM477 556h1v1h-1zM489 556h1v1h-1zM506 556h1v1h-1zM511 556h1v1h-1zM523 556h1v1h-1zM526 556h1v1h-1zM550 549h1v8h-1zM560 544h1v13h-1zM565 554h1v3h-1zM567 552h1v5h-1zM585 556h1v1h-1zM594 556h1v1h-1zM599 556h1v1h-1zM609 556h1v1h-1zM614 556h1v1h-1zM617 556h1v1h-1zM619 556h1v1h-1zM631 556h1v1h-1zM644 556h1v1h-1zM646 556h1v1h-1zM661 556h1v1h-1zM666 556h1v1h-1zM671 556h1v1h-1zM680 556h1v1h-1zM683 556h1v1h-1zM685 556h1v1h-1zM695 556h1v1h-1zM705 556h1v1h-1zM715 556h1v1h-1zM734 556h1v1h-1zM737 556h1v1h-1zM747 556h1v1h-1zM749 554h1v3h-1zM756 556h1v1h-1zM764 556h1v1h-1zM786 556h1v1h-1zM788 556h1v1h-1zM791 556h1v1h-1zM815 556h1v1h-1zM820 556h1v1h-1zM825 556h1v1h-1zM840 556h1v1h-1zM842 556h1v1h-1zM855 556h1v1h-1zM859 539h1v18h-1zM874 556h1v1h-1zM884 538h1v19h-1zM886 550h1v7h-1zM891 553h1v4h-1zM901 554h1v3h-1zM909 555h1v2h-1z" fill="#18a040" shape-rendering="crispEdges"/>
<path d="M52 556h1v1h-1zM84 556h1v1h-1zM96 556h1v1h-1zM104 555h1v2h-1zM111 556h1v1h-1zM118 552h1v5h-1zM133 553h1v4h-1zM136 555h1v2h-1zM145 552h1v5h-1zM150 553h1v4h-1zM153 556h1v1h-1zM165 550h1v7h-1zM170 555h1v2h-1zM172 556h1v1h-1zM185 556h1v1h-1zM190 554h1v3h-1zM197 554h1v3h-1zM207 554h1v3h-1zM217 555h1v2h-1zM219 554h1v3h-1zM234 556h1v1h-1zM236 556h1v1h-1zM241 556h1v1h-1zM248 556h1v1h-1zM251 556h1v1h-1zM258 556h1v1h-1zM268 556h1v1h-1zM275 556h1v1h-1zM288 556h1v1h-1zM290 556h1v1h-1zM293 556h1v1h-1zM300 556h1v1h-1zM302 556h1v1h-1zM317 556h1v1h-1zM327 556h1v1h-1zM334 554h1v3h-1zM337 556h1v1h-1zM342 556h1v1h-1zM344 556h1v1h-1zM356 556h1v1h-1zM359 556h1v1h-1zM374 556h1v1h-1zM378 556h1v1h-1zM386 556h1v1h-1zM391 556h1v1h-1zM396 556h1v1h-1zM405 556h1v1h-1zM410 556h1v1h-1zM413 555h1v2h-1zM428 556h1v1h-1zM430 556h1v1h-1zM442 556h1v1h-1zM447 556h1v1h-1zM455 555h1v2h-1zM459 556h1v1h-1zM462 556h1v1h-1zM472 556h1v1h-1zM479 555h1v2h-1zM482 556h1v1h-1zM491 556h1v1h-1zM513 556h1v1h-1zM531 556h1v1h-1zM533 556h1v1h-1zM540 556h1v1h-1zM545 556h1v1h-1zM548 460h1v97h-1zM558 554h1v3h-1zM563 550h1v7h-1zM575 554h1v3h-1zM577 556h1v1h-1zM580 556h1v1h-1zM592 556h1v1h-1zM597 556h1v1h-1zM602 556h1v1h-1zM612 556h1v1h-1zM626 556h1v1h-1zM629 556h1v1h-1zM634 556h1v1h-1zM636 556h1v1h-1zM653 556h1v1h-1zM663 556h1v1h-1zM678 556h1v1h-1zM688 556h1v1h-1zM697 556h1v1h-1zM700 556h1v1h-1zM702 556h1v1h-1zM717 556h1v1h-1zM722 556h1v1h-1zM739 556h1v1h-1zM751 555h1v2h-1zM754 555h1v2h-1zM766 556h1v1h-1zM769 555h1v2h-1zM771 556h1v1h-1zM774 556h1v1h-1zM783 556h1v1h-1zM798 556h1v1h-1zM818 556h1v1h-1zM823 556h1v1h-1zM832 556h1v1h-1zM850 556h1v1h-1zM852 556h1v1h-1zM857 551h1v6h-1zM867 553h1v4h-1zM869 556h1v1h-1zM872 556h1v1h-1zM877 556h1v1h-1zM889 549h1v8h-1zM904 552h1v5h-1zM906 555h1v2h-1zM911 556h1v1h-1z" fill="#ff2200" shape-rendering="crispEdges"/>
<path d="M32 426h1v13h-1zM30 432h2v1h-2zM33 428h3v1h-3zM45 431h1v14h-1zM43 441h2v1h-2zM46 432h3v1h-3zM47 409h1v28h-1zM45 421h2v1h-2zM48 409h3v1h-3zM50 399h1v12h-1zM48 411h2v1h-2zM51 402h3v1h-3zM62 397h1v26h-1zM60 420h2v1h-2zM63 416h3v1h-3zM64 395h1v23h-1zM62 410h2v1h-2zM65 401h3v1h-3zM69 378h1v29h-1zM67 407h2v1h-2zM70 397h3v1h-3zM79 392h1v31h-1zM77 414h2v1h-2zM80 405h3v1h-3zM82 401h1v8h-1zM80 405h2v1h-2zM83 402h3v1h-3zM84 386h1v20h-1zM82 391h2v1h-2zM85 386h3v1h-3zM86 379h1v19h-1zM84 386h2v1h-2zM87 382h3v1h-3zM96 358h1v30h-1zM94 387h2v1h-2zM97 364h3v1h-3zM99 341h1v35h-1zM97 351h2v1h-2zM100 349h3v1h-3zM104 323h1v33h-1zM102 345h2v1h-2zM105 328h3v1h-3zM111 331h1v17h-1zM109 335h2v1h-2zM112 335h3v1h-3zM113 256h1v47h-1zM111 300h2v1h-2zM114 280h3v1h-3zM121 223h1v81h-1zM119 285h2v1h-2zM122 235h3v1h-3zM131 183h1v39h-1zM129 221h2v1h-2zM132 197h3v1h-3zM138 200h1v33h-1zM136 213h2v1h-2zM139 204h3v1h-3zM145 164h1v38h-1zM143 201h2v1h-2zM146 174h3v1h-3zM150 177h1v19h-1zM148 183h2v1h-2zM151 179h3v1h-3zM155 147h1v40h-1zM153 182h2v1h-2zM156 157h3v1h-3zM163 130h1v28h-1zM161 155h2v1h-2zM164 150h3v1h-3zM172 185h1v21h-1zM170 199h2v1h-2zM173 184h3v1h-3zM180 176h1v11h-1zM178 183h2v1h-2zM181 183h3v1h-3zM185 183h1v18h-1zM183 196h2v1h-2zM186 194h3v1h-3zM190 182h1v19h-1zM188 193h2v1h-2zM191 187h3v1h-3zM197 184h1v20h-1zM195 190h2v1h-2zM198 187h3v1h-3zM199 158h1v29h-1zM197 183h2v1h-2zM200 166h3v1h-3zM204 176h1v22h-1zM202 188h2v1h-2zM205 184h3v1h-3zM219 197h1v12h-1zM217 199h2v1h-2zM220 199h3v1h-3zM221 183h1v17h-1zM219 199h2v1h-2zM222 188h3v1h-3zM231 177h1v17h-1zM229 189h2v1h-2zM232 183h3v1h-3zM239 188h1v18h-1zM237 197h2v1h-2zM240 197h3v1h-3zM248 189h1v15h-1zM246 203h2v1h-2zM249 194h3v1h-3zM253 199h1v9h-1zM251 201h2v1h-2zM254 196h3v1h-3zM256 193h1v10h-1zM254 198h2v1h-2zM257 192h3v1h-3zM266 170h1v22h-1zM264 190h2v1h-2zM267 183h3v1h-3zM300 204h1v17h-1zM298 211h2v1h-2zM301 206h3v1h-3zM305 203h1v10h-1zM303 211h2v1h-2zM306 203h3v1h-3zM317 196h1v22h-1zM315 217h2v1h-2zM318 203h3v1h-3zM327 202h1v30h-1zM325 219h2v1h-2zM328 208h3v1h-3zM334 180h1v30h-1zM332 208h2v1h-2zM335 180h3v1h-3zM339 192h1v22h-1zM337 199h2v1h-2zM340 197h3v1h-3zM344 187h1v18h-1zM342 200h2v1h-2zM345 191h3v1h-3zM354 187h1v10h-1zM352 195h2v1h-2zM355 188h3v1h-3zM359 177h1v17h-1zM357 191h2v1h-2zM360 185h3v1h-3zM371 182h1v15h-1zM369 189h2v1h-2zM372 189h3v1h-3zM378 186h1v9h-1zM376 194h2v1h-2zM379 189h3v1h-3zM386 170h1v20h-1zM384 189h2v1h-2zM387 174h3v1h-3zM393 180h1v9h-1zM391 188h2v1h-2zM394 182h3v1h-3zM396 166h1v22h-1zM394 182h2v1h-2zM397 173h3v1h-3zM410 177h1v13h-1zM408 187h2v1h-2zM411 182h3v1h-3zM420 165h1v24h-1zM418 183h2v1h-2zM421 165h3v1h-3zM430 181h1v15h-1zM428 187h2v1h-2zM431 186h3v1h-3zM445 199h1v9h-1zM443 203h2v1h-2zM446 201h3v1h-3zM447 193h1v10h-1zM445 201h2v1h-2zM448 196h3v1h-3zM457 211h1v11h-1zM455 211h2v1h-2zM458 213h3v1h-3zM459 209h1v9h-1zM457 211h2v1h-2zM460 208h3v1h-3zM482 222h1v26h-1zM480 243h2v1h-2zM483 236h3v1h-3zM489 212h1v15h-1zM487 226h2v1h-2zM490 215h3v1h-3zM496 221h1v17h-1zM494 233h2v1h-2zM497 231h3v1h-3zM499 220h1v8h-1zM497 227h2v1h-2zM500 224h3v1h-3zM513 232h1v13h-1zM511 239h2v1h-2zM514 236h3v1h-3zM523 228h1v9h-1zM521 234h2v1h-2zM524 234h3v1h-3zM528 243h1v12h-1zM526 250h2v1h-2zM529 250h3v1h-3zM533 249h1v28h-1zM531 270h2v1h-2zM534 254h3v1h-3zM540 235h1v14h-1zM538 241h2v1h-2zM541 240h3v1h-3zM548 109h1v67h-1zM546 172h2v1h-2zM549 145h3v1h-3zM558 141h1v32h-1zM556 161h2v1h-2zM559 145h3v1h-3zM560 114h1v43h-1zM558 145h2v1h-2zM561 119h3v1h-3zM563 96h1v20h-1zM561 110h2v1h-2zM564 101h3v1h-3zM577 128h1v25h-1zM575 143h2v1h-2zM578 132h3v1h-3zM585 135h1v12h-1zM583 146h2v1h-2zM586 138h3v1h-3zM594 142h1v10h-1zM592 152h2v1h-2zM595 146h3v1h-3zM597 146h1v13h-1zM595 150h2v1h-2zM598 148h3v1h-3zM599 130h1v19h-1zM597 147h2v1h-2zM600 132h3v1h-3zM609 123h1v15h-1zM607 133h2v1h-2zM610 127h3v1h-3zM612 127h1v20h-1zM610 130h2v1h-2zM613 127h3v1h-3zM614 122h1v19h-1zM612 130h2v1h-2zM615 126h3v1h-3zM617 123h1v14h-1zM615 130h2v1h-2zM618 125h3v1h-3zM619 115h1v15h-1zM617 125h2v1h-2zM620 123h3v1h-3zM629 105h1v32h-1zM627 137h2v1h-2zM630 110h3v1h-3zM634 102h1v15h-1zM632 114h2v1h-2zM635 104h3v1h-3zM646 112h1v14h-1zM644 121h2v1h-2zM647 116h3v1h-3zM653 119h1v8h-1zM651 127h2v1h-2zM654 122h3v1h-3zM661 121h1v16h-1zM659 126h2v1h-2zM662 120h3v1h-3zM663 111h1v15h-1zM661 121h2v1h-2zM664 118h3v1h-3zM671 108h1v28h-1zM669 128h2v1h-2zM672 125h3v1h-3zM683 130h1v17h-1zM681 137h2v1h-2zM684 136h3v1h-3zM685 136h1v5h-1zM683 137h2v1h-2zM686 137h3v1h-3zM688 130h1v11h-1zM686 137h2v1h-2zM689 130h3v1h-3zM695 129h1v12h-1zM693 132h2v1h-2zM696 130h3v1h-3zM702 146h1v8h-1zM700 153h2v1h-2zM703 151h3v1h-3zM715 155h1v7h-1zM713 159h2v1h-2zM716 154h3v1h-3zM717 152h1v9h-1zM715 154h2v1h-2zM718 153h3v1h-3zM720 148h1v6h-1zM718 153h2v1h-2zM721 151h3v1h-3zM729 150h1v5h-1zM727 152h2v1h-2zM730 150h3v1h-3zM732 148h1v5h-1zM730 150h2v1h-2zM733 147h3v1h-3zM756 207h1v16h-1zM754 221h2v1h-2zM757 213h3v1h-3zM764 199h1v14h-1zM762 212h2v1h-2zM765 203h3v1h-3zM771 213h1v15h-1zM769 224h2v1h-2zM772 220h3v1h-3zM774 209h1v11h-1zM772 220h2v1h-2zM775 215h3v1h-3zM786 209h1v14h-1zM784 220h2v1h-2zM787 213h3v1h-3zM788 210h1v10h-1zM786 215h2v1h-2zM789 213h3v1h-3zM803 213h1v16h-1zM801 226h2v1h-2zM804 213h3v1h-3zM815 202h1v20h-1zM813 219h2v1h-2zM816 206h3v1h-3zM820 199h1v16h-1zM818 213h2v1h-2zM821 203h3v1h-3zM850 200h1v27h-1zM848 227h2v1h-2zM851 210h3v1h-3zM884 131h1v77h-1zM882 202h2v1h-2zM885 133h3v1h-3zM886 108h1v35h-1zM884 133h2v1h-2zM887 108h3v1h-3zM889 77h1v33h-1zM887 108h2v1h-2zM890 85h3v1h-3zM891 67h1v29h-1zM889 91h2v1h-2zM892 74h3v1h-3zM904 55h1v38h-1zM902 79h2v1h-2zM905 68h3v1h-3z" fill="#008000" shape-rendering="crispEdges"/>
<path d="M30 415h1v21h-1zM28 432h2v1h-2zM31 435h3v1h-3zM42 427h1v18h-1zM40 433h2v1h-2zM43 445h3v1h-3zM52 381h1v32h-1zM50 402h2v1h-2zM53 408h3v1h-3zM59 410h1v9h-1zM57 413h2v1h-2zM60 416h3v1h-3zM67 394h1v12h-1zM65 397h2v1h-2zM68 400h3v1h-3zM77 392h1v21h-1zM75 401h2v1h-2zM78 408h3v1h-3zM94 359h1v31h-1zM92 375h2v1h-2zM95 387h3v1h-3zM101 322h1v43h-1zM99 344h2v1h-2zM102 353h3v1h-3zM116 224h1v50h-1zM114 259h2v1h-2zM117 259h3v1h-3zM118 246h1v50h-1zM116 259h2v1h-2zM119 285h3v1h-3zM133 194h1v29h-1zM131 199h2v1h-2zM134 212h3v1h-3zM136 197h1v24h-1zM134 205h2v1h-2zM137 215h3v1h-3zM148 166h1v26h-1zM146 174h2v1h-2zM149 189h3v1h-3zM153 167h1v19h-1zM151 179h2v1h-2zM154 182h3v1h-3zM165 138h1v38h-1zM163 144h2v1h-2zM166 172h3v1h-3zM167 168h1v29h-1zM165 171h2v1h-2zM168 188h3v1h-3zM170 186h1v15h-1zM168 193h2v1h-2zM171 195h3v1h-3zM182 174h1v24h-1zM180 184h2v1h-2zM183 196h3v1h-3zM202 167h1v23h-1zM200 174h2v1h-2zM203 188h3v1h-3zM207 173h1v17h-1zM205 180h2v1h-2zM208 182h3v1h-3zM214 180h1v12h-1zM212 182h2v1h-2zM215 188h3v1h-3zM217 188h1v12h-1zM215 188h2v1h-2zM218 199h3v1h-3zM234 184h1v14h-1zM232 183h2v1h-2zM235 192h3v1h-3zM236 193h1v8h-1zM234 192h2v1h-2zM237 197h3v1h-3zM241 196h1v11h-1zM239 197h2v1h-2zM242 201h3v1h-3zM251 193h1v12h-1zM249 193h2v1h-2zM252 202h3v1h-3zM258 190h1v14h-1zM256 190h2v1h-2zM259 196h3v1h-3zM268 181h1v23h-1zM266 180h2v1h-2zM269 189h3v1h-3zM270 187h1v8h-1zM268 189h2v1h-2zM271 191h3v1h-3zM273 193h1v6h-1zM271 195h2v1h-2zM274 198h3v1h-3zM275 195h1v9h-1zM273 198h2v1h-2zM276 201h3v1h-3zM283 195h1v13h-1zM281 195h2v1h-2zM284 199h3v1h-3zM285 198h1v11h-1zM283 199h2v1h-2zM286 204h3v1h-3zM288 201h1v8h-1zM286 204h2v1h-2zM289 207h3v1h-3zM290 206h1v11h-1zM288 207h2v1h-2zM291 212h3v1h-3zM293 217h1v19h-1zM291 217h2v1h-2zM294 220h3v1h-3zM302 206h1v12h-1zM300 206h2v1h-2zM303 211h3v1h-3zM307 201h1v17h-1zM305 203h2v1h-2zM308 209h3v1h-3zM310 206h1v11h-1zM308 209h2v1h-2zM311 216h3v1h-3zM320 203h1v16h-1zM318 203h2v1h-2zM321 208h3v1h-3zM322 181h1v47h-1zM320 208h2v1h-2zM323 212h3v1h-3zM324 213h1v15h-1zM322 212h2v1h-2zM325 219h3v1h-3zM337 181h1v23h-1zM335 180h2v1h-2zM338 198h3v1h-3zM342 196h1v12h-1zM340 197h2v1h-2zM343 200h3v1h-3zM351 191h1v6h-1zM349 192h2v1h-2zM352 195h3v1h-3zM356 179h1v17h-1zM354 188h2v1h-2zM357 191h3v1h-3zM361 180h1v9h-1zM359 182h2v1h-2zM362 183h3v1h-3zM374 186h1v10h-1zM372 188h2v1h-2zM375 192h3v1h-3zM376 192h1v10h-1zM374 192h2v1h-2zM377 195h3v1h-3zM388 168h1v13h-1zM386 173h2v1h-2zM389 175h3v1h-3zM391 170h1v22h-1zM389 175h2v1h-2zM392 185h3v1h-3zM403 170h1v7h-1zM401 172h2v1h-2zM404 175h3v1h-3zM405 173h1v16h-1zM403 175h2v1h-2zM406 187h3v1h-3zM408 184h1v9h-1zM406 187h2v1h-2zM409 189h3v1h-3zM413 183h1v9h-1zM411 183h2v1h-2zM414 185h3v1h-3zM423 159h1v20h-1zM421 165h2v1h-2zM424 171h3v1h-3zM425 172h1v14h-1zM423 171h2v1h-2zM426 178h3v1h-3zM428 179h1v14h-1zM426 178h2v1h-2zM429 189h3v1h-3zM437 185h1v8h-1zM435 184h2v1h-2zM438 192h3v1h-3zM440 188h1v15h-1zM438 192h2v1h-2zM441 197h3v1h-3zM442 198h1v14h-1zM440 197h2v1h-2zM443 206h3v1h-3zM455 192h1v23h-1zM453 196h2v1h-2zM456 211h3v1h-3zM462 204h1v11h-1zM460 208h2v1h-2zM463 210h3v1h-3zM464 203h1v22h-1zM462 211h2v1h-2zM465 222h3v1h-3zM472 213h1v12h-1zM470 215h2v1h-2zM473 216h3v1h-3zM474 213h1v14h-1zM472 216h2v1h-2zM475 221h3v1h-3zM477 216h1v16h-1zM475 221h2v1h-2zM478 226h3v1h-3zM479 223h1v22h-1zM477 226h2v1h-2zM480 241h3v1h-3zM491 213h1v16h-1zM489 217h2v1h-2zM492 225h3v1h-3zM494 221h1v19h-1zM492 225h2v1h-2zM495 233h3v1h-3zM506 221h1v8h-1zM504 220h2v1h-2zM507 228h3v1h-3zM509 225h1v14h-1zM507 228h2v1h-2zM510 233h3v1h-3zM511 226h1v18h-1zM509 233h2v1h-2zM512 238h3v1h-3zM516 226h1v10h-1zM514 225h2v1h-2zM517 235h3v1h-3zM526 231h1v22h-1zM524 231h2v1h-2zM527 251h3v1h-3zM531 249h1v20h-1zM529 249h2v1h-2zM532 267h3v1h-3zM543 238h1v13h-1zM541 240h2v1h-2zM544 242h3v1h-3zM545 233h1v15h-1zM543 242h2v1h-2zM546 243h3v1h-3zM550 133h1v45h-1zM548 150h2v1h-2zM551 162h3v1h-3zM565 88h1v21h-1zM563 96h2v1h-2zM566 105h3v1h-3zM567 104h1v34h-1zM565 114h2v1h-2zM568 135h3v1h-3zM575 136h1v22h-1zM573 135h2v1h-2zM576 145h3v1h-3zM580 133h1v22h-1zM578 132h2v1h-2zM581 150h3v1h-3zM592 142h1v12h-1zM590 147h2v1h-2zM593 152h3v1h-3zM602 133h1v16h-1zM600 135h2v1h-2zM603 135h3v1h-3zM626 117h1v26h-1zM624 125h2v1h-2zM627 139h3v1h-3zM631 110h1v13h-1zM629 110h2v1h-2zM632 119h3v1h-3zM636 101h1v18h-1zM634 102h2v1h-2zM637 112h3v1h-3zM644 108h1v16h-1zM642 108h2v1h-2zM645 121h3v1h-3zM648 116h1v9h-1zM646 116h2v1h-2zM649 124h3v1h-3zM666 115h1v14h-1zM664 117h2v1h-2zM667 121h3v1h-3zM678 120h1v20h-1zM676 122h2v1h-2zM679 132h3v1h-3zM680 133h1v8h-1zM678 132h2v1h-2zM681 136h3v1h-3zM697 130h1v10h-1zM695 130h2v1h-2zM698 137h3v1h-3zM700 134h1v23h-1zM698 138h2v1h-2zM701 153h3v1h-3zM705 148h1v12h-1zM703 151h2v1h-2zM706 158h3v1h-3zM722 151h1v6h-1zM720 153h2v1h-2zM723 153h3v1h-3zM734 148h1v11h-1zM732 147h2v1h-2zM735 153h3v1h-3zM737 150h1v10h-1zM735 153h2v1h-2zM738 153h3v1h-3zM739 157h1v21h-1zM737 156h2v1h-2zM740 171h3v1h-3zM747 167h1v12h-1zM745 175h2v1h-2zM748 178h3v1h-3zM749 174h1v35h-1zM747 178h2v1h-2zM750 195h3v1h-3zM751 185h1v39h-1zM749 199h2v1h-2zM752 219h3v1h-3zM754 217h1v11h-1zM752 219h2v1h-2zM755 224h3v1h-3zM766 195h1v15h-1zM764 203h2v1h-2zM767 203h3v1h-3zM769 203h1v36h-1zM767 203h2v1h-2zM770 224h3v1h-3zM783 211h1v17h-1zM781 211h2v1h-2zM784 220h3v1h-3zM791 207h1v13h-1zM789 213h2v1h-2zM792 217h3v1h-3zM798 220h1v11h-1zM796 220h2v1h-2zM799 231h3v1h-3zM801 223h1v8h-1zM799 231h2v1h-2zM802 224h3v1h-3zM805 211h1v13h-1zM803 213h2v1h-2zM806 214h3v1h-3zM808 214h1v9h-1zM806 214h2v1h-2zM809 218h3v1h-3zM818 209h1v11h-1zM816 211h2v1h-2zM819 214h3v1h-3zM823 197h1v24h-1zM821 205h2v1h-2zM824 210h3v1h-3zM825 210h1v11h-1zM823 210h2v1h-2zM826 219h3v1h-3zM832 219h1v11h-1zM830 219h2v1h-2zM833 223h3v1h-3zM835 215h1v9h-1zM833 219h2v1h-2zM836 219h3v1h-3zM837 216h1v12h-1zM835 219h2v1h-2zM838 227h3v1h-3zM840 220h1v7h-1zM838 222h2v1h-2zM841 225h3v1h-3zM842 223h1v11h-1zM840 225h2v1h-2zM843 228h3v1h-3zM852 201h1v14h-1zM850 209h2v1h-2zM853 212h3v1h-3zM855 209h1v15h-1zM853 212h2v1h-2zM856 216h3v1h-3zM857 213h1v14h-1zM855 216h2v1h-2zM858 222h3v1h-3zM859 143h1v47h-1zM857 169h2v1h-2zM860 178h3v1h-3zM867 157h1v25h-1zM865 168h2v1h-2zM868 173h3v1h-3zM869 163h1v21h-1zM867 173h2v1h-2zM870 174h3v1h-3zM872 163h1v17h-1zM870 175h2v1h-2zM873 178h3v1h-3zM874 175h1v18h-1zM872 180h2v1h-2zM875 190h3v1h-3zM877 196h1v11h-1zM875 197h2v1h-2zM878 202h3v1h-3zM901 75h1v32h-1zM899 75h2v1h-2zM902 78h3v1h-3zM906 49h1v27h-1zM904 56h2v1h-2zM907 72h3v1h-3zM909 70h1v14h-1zM907 72h2v1h-2zM910 72h3v1h-3zM911 67h1v15h-1zM909 72h2v1h-2zM912 82h3v1h-3z" fill="#ff0000" shape-rendering="crispEdges"/>
<path d="M922 49h5v1h-5zM922 106h5v1h-5zM922 162h5v1h-5zM922 219h5v1h-5zM922 275h5v1h-5zM922 332h5v1h-5zM922 388h5v1h-5zM922 54h3v1h-3zM922 81h3v1h-3zM922 87h3v1h-3zM922 111h3v1h-3zM922 137h3v1h-3zM922 144h3v1h-3zM922 167h3v1h-3zM922 200h3v1h-3zM922 224h3v1h-3zM922 280h3v1h-3zM922 440h3v1h-3zM922 460h5v1h-5zM922 485h5v1h-5zM922 509h5v1h-5zM922 534h5v1h-5zM922 466h3v1h-3zM922 472h3v1h-3zM922 479h3v1h-3zM922 491h3v1h-3zM922 497h3v1h-3zM922 503h3v1h-3zM922 515h3v1h-3zM922 522h3v1h-3zM922 528h3v1h-3zM922 540h3v1h-3zM922 546h3v1h-3zM922 553h3v1h-3zM67 559h1v4h-1zM143 559h1v4h-1zM217 559h1v4h-1zM293 559h1v4h-1zM369 559h1v4h-1zM442 559h1v4h-1zM518 559h1v4h-1zM592 559h1v4h-1zM668 559h1v4h-1zM744 559h1v4h-1zM813 559h1v4h-1zM889 559h1v4h-1z" fill="#000" shape-rendering="crispEdges"/>
<path d="M921.5 45.3V449.5M921.5 461.5V558.5H21.1" fill="none" stroke="#000" stroke-width="2.3" stroke-linejoin="round" stroke-linecap="round"/>
<text x="931" y="53" font-size="11" letter-spacing="0.95" fill="#1410b0">7.5</text>
<text x="931" y="110" font-size="11" letter-spacing="0.95" fill="#1410b0">6.0</text>
<text x="931" y="166" font-size="11" letter-spacing="0.95" fill="#1410b0">4.8</text>
<text x="931" y="223" font-size="11" letter-spacing="0.95" fill="#1410b0">3.8</text>
<text x="931" y="279" font-size="11" letter-spacing="0.95" fill="#1410b0">3.0</text>
<text x="931" y="336" font-size="11" letter-spacing="0.95" fill="#1410b0">2.3</text>
<text x="931" y="392" font-size="11" letter-spacing="0.95" fill="#1410b0">1.8</text>
<text x="931" y="464" font-size="11" letter-spacing="0.95" fill="#10a0b4">1,120</text>
<text x="931" y="489" font-size="11" letter-spacing="0.95" fill="#10a0b4">840</text>
<text x="931" y="513" font-size="11" letter-spacing="0.95" fill="#10a0b4">560</text>
<text x="931" y="538" font-size="11" letter-spacing="0.95" fill="#10a0b4">280</text>
<text x="67.5" y="575" font-size="11" fill="#000" text-anchor="middle">5/1/25</text>
<text x="143.5" y="575" font-size="11" fill="#000" text-anchor="middle">6/1/25</text>
<text x="217.5" y="575" font-size="11" fill="#000" text-anchor="middle">7/1/25</text>
<text x="293.5" y="575" font-size="11" fill="#000" text-anchor="middle">8/1/25</text>
<text x="369.5" y="575" font-size="11" fill="#000" text-anchor="middle">9/1/25</text>
<text x="442.5" y="575" font-size="11" fill="#000" text-anchor="middle">10/1/25</text>
<text x="518.5" y="575" font-size="11" fill="#000" text-anchor="middle">11/1/25</text>
<text x="592.5" y="575" font-size="11" fill="#000" text-anchor="middle">12/1/25</text>
<text x="668.5" y="575" font-size="11" fill="#000" text-anchor="middle">1/1/26</text>
<text x="744.5" y="575" font-size="11" fill="#000" text-anchor="middle">2/1/26</text>
<text x="813.5" y="575" font-size="11" fill="#000" text-anchor="middle">3/1/26</text>
<text x="889.5" y="575" font-size="11" fill="#000" text-anchor="middle">4/1/26</text>
<text x="365" y="15" font-size="15" font-weight="bold" fill="#000" textLength="234" lengthAdjust="spacingAndGlyphs">Technical Analysis Since 04/15/25</text>
<rect x="26" y="583" width="5" height="7" fill="#f0962e"/><rect x="32" y="586" width="1" height="1" fill="#f0962e"/>
<text x="39" y="591" font-size="11" fill="#f0902a" xml:space="preserve">Price: 7.60  04/10/26</text>
<path d="M166.4 586.5H171.6" stroke="#b00000" stroke-width="2.2" stroke-linecap="round"/>
<text x="179" y="591" font-size="11" fill="#b00000">SMA 50: 5.501</text>
<path d="M306.2 586.2H311.6" stroke="#008000" stroke-width="2.2" stroke-linecap="round"/>
<text x="319.5" y="591" font-size="11" fill="#008000">SMA 200: 5.557</text>
<path d="M446.3 586.5H451.6" stroke="#10a0b0" stroke-width="1.3" stroke-linecap="round"/>
<text x="459" y="591" font-size="11" fill="#10a8c0" xml:space="preserve">Volume: 24.53  04/10/26</text>
<rect x="0.5" y="0.5" width="999" height="599" fill="none" stroke="#707070" stroke-width="1" shape-rendering="crispEdges"/>
<path d="M0 0h1v1h-1zM999 0h1v1h-1zM0 599h1v1h-1zM999 599h1v1h-1z" fill="#303030" shape-rendering="crispEdges"/>
</svg>
</body></html>
